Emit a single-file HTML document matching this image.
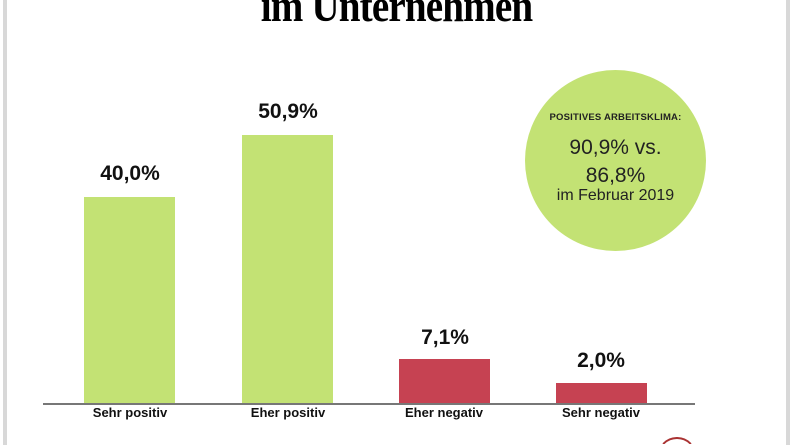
<!DOCTYPE html>
<html><head><meta charset="utf-8"><style>
html,body{margin:0;width:793px;height:445px;overflow:hidden}
body{background:#fff;position:relative;font-family:"Liberation Sans",sans-serif}
.b{position:absolute}
.bar{position:absolute;width:91px}
.v{position:absolute;width:140px;text-align:center;font-weight:bold;font-size:21px;line-height:24px;color:#111}
.l{position:absolute;width:160px;text-align:center;font-weight:bold;font-size:13px;line-height:15px;color:#111}
</style></head><body>
<div class="b" style="left:3px;top:0;width:4px;bottom:0;background:#d8d8d8"></div>
<div class="b" style="left:786px;top:0;width:4px;bottom:0;background:#d8d8d8"></div>
<div class="b" style="left:0;top:-20px;width:793px;text-align:center;font-family:'Liberation Serif',serif;font-weight:bold;font-size:46px;line-height:52px;color:#000;letter-spacing:-1px;transform:scaleX(0.85)">im Unternehmen</div>
<div class="b" style="left:525px;top:70px;width:181px;height:181px;border-radius:50%;background:#c3e274"></div>
<div class="b" style="left:525px;top:112px;width:181px;text-align:center;font-size:9.5px;font-weight:bold;color:#222;letter-spacing:0.2px">POSITIVES ARBEITSKLIMA:</div>
<div class="b" style="left:525px;top:134px;width:181px;text-align:center;font-size:21px;color:#222;line-height:28px">90,9% vs.<br>86,8%</div>
<div class="b" style="left:525px;top:187px;width:181px;text-align:center;font-size:16px;color:#222">im Februar 2019</div>
<div class="b" style="left:43px;top:403px;width:652px;height:2px;background:#777"></div>
<div class="bar" style="left:84px;top:197px;height:206px;background:#c3e274"></div>
<div class="bar" style="left:242px;top:135px;height:268px;background:#c3e274"></div>
<div class="bar" style="left:399px;top:359px;height:44px;background:#c64252"></div>
<div class="bar" style="left:556px;top:383px;height:20px;background:#c64252"></div>
<div class="v" style="left:60px;top:162px">40,0%</div>
<div class="v" style="left:218px;top:100px">50,9%</div>
<div class="v" style="left:375px;top:326px">7,1%</div>
<div class="v" style="left:531px;top:349px">2,0%</div>
<div class="l" style="left:50px;top:405px">Sehr positiv</div>
<div class="l" style="left:208px;top:405px">Eher positiv</div>
<div class="l" style="left:364px;top:405px">Eher negativ</div>
<div class="l" style="left:521px;top:405px">Sehr negativ</div>
<svg class="b" style="left:657px;top:437px;display:block" width="40" height="7"><path d="M6.14,7 A19,19 0 0 1 33.86,7" fill="none" stroke="#a33" stroke-width="2"/></svg>
</body></html>
